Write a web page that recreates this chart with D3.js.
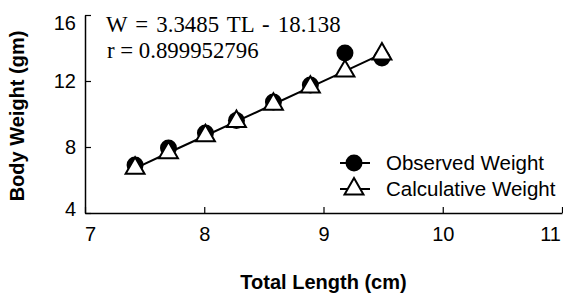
<!DOCTYPE html>
<html>
<head>
<meta charset="utf-8">
<script src="https://cdn.jsdelivr.net/npm/d3@7"></script>
<style>
  html, body { margin: 0; padding: 0; background: #fff; }
  svg { display: block; }
</style>
</head>
<body>
<div id="chart"></div>
<script>
// values
const totalLength = [7.42, 7.70, 8.01, 8.27, 8.58, 8.89, 9.18, 9.49];
const observedWeight = [6.91, 7.94, 8.85, 9.60, 10.73, 11.76, 13.70, 13.39];
const calculativeWeight = [6.71, 7.65, 8.68, 9.55, 10.59, 11.63, 12.60, 13.64];
const xTicks = [7, 8, 9, 10, 11];
const yTicks = [4, 8, 12, 16];
const seriesNames = ["Observed Weight", "Calculative Weight"];
const equationText = ["W = 3.3485 TL - 18.138", "r = 0.899952796"];

const width = 563, height = 293;

const svg = d3.select("#chart").append("svg")
  .attr("width", width)
  .attr("height", height);

const x = d3.scaleLinear().domain([7, 11]).range([85, 562]);
const y = d3.scaleLinear().domain([4, 16]).range([213, 15]);

// axes, ticks pointing inward
const xAxis = svg.append("g")
  .attr("transform", `translate(0,${y(4)})`)
  .call(d3.axisBottom(x).tickValues(xTicks).tickSizeInner(-6).tickSizeOuter(0).tickPadding(14)
    .tickFormat(d3.format("d")));

const yAxis = svg.append("g")
  .attr("transform", `translate(${x(7)},0)`)
  .call(d3.axisLeft(y).tickValues(yTicks).tickSizeInner(-6).tickSizeOuter(0).tickPadding(9)
    .tickFormat(d3.format("d")));

[xAxis, yAxis].forEach(g => {
  g.select(".domain").attr("stroke", "#000").attr("stroke-width", 1.5);
  g.selectAll(".tick line").attr("stroke", "#000").attr("stroke-width", 1.2);
  g.selectAll(".tick text")
    .attr("fill", "#000")
    .style("font-family", "Liberation Sans, Arial, sans-serif")
    .style("font-size", "20px");
});

// labels at the ends sit inside the frame like in the original
xAxis.selectAll(".tick text").filter(d => d === 7).attr("dx", 5);
xAxis.selectAll(".tick text").filter(d => d === 11).attr("dx", -12);
yAxis.selectAll(".tick text").filter(d => d === 16).attr("dy", "0.32em").attr("y", 8);
yAxis.selectAll(".tick text").filter(d => d === 4).attr("y", -4);

// axis titles
svg.append("text")
  .attr("x", (x(7) + x(11)) / 2)
  .attr("y", 289)
  .attr("text-anchor", "middle")
  .style("font-family", "Liberation Sans, Arial, sans-serif")
  .style("font-weight", "bold")
  .style("font-size", "20px")
  .text("Total Length (cm)");

svg.append("text")
  .attr("transform", `translate(24,${(y(4) + y(16)) / 2 + 2}) rotate(-90)`)
  .attr("text-anchor", "middle")
  .style("font-family", "Liberation Sans, Arial, sans-serif")
  .style("font-weight", "bold")
  .style("font-size", "20px")
  .text("Body Weight (gm)");

// observed weight markers
const obs = totalLength.map((t, i) => ({ t, w: observedWeight[i] }));
const calc = totalLength.map((t, i) => ({ t, w: calculativeWeight[i] }));

svg.append("g").selectAll("circle")
  .data(obs)
  .enter()
  .append("circle")
  .attr("cx", d => x(d.t))
  .attr("cy", d => y(d.w))
  .attr("r", 8.5)
  .attr("fill", "#000");

// calculative weight line + markers
const line = d3.line().x(d => x(d.t)).y(d => y(d.w));
svg.append("path")
  .datum(calc)
  .attr("d", line)
  .attr("fill", "none")
  .attr("stroke", "#000")
  .attr("stroke-width", 2);

const tri = d3.symbol().type(d3.symbolTriangle).size(155);
svg.append("g").selectAll("path")
  .data(calc)
  .enter()
  .append("path")
  .attr("d", tri)
  .attr("transform", d => `translate(${x(d.t)},${y(d.w)})`)
  .attr("fill", "#fff")
  .attr("stroke", "#000")
  .attr("stroke-width", 2);

// equation
svg.append("g").selectAll("text")
  .data(equationText)
  .enter()
  .append("text")
  .attr("x", (d, i) => i === 0 ? 106 : 107)
  .attr("y", (d, i) => 32 + i * 26)
  .style("font-family", "Liberation Serif, Times New Roman, serif")
  .style("font-size", "22.8px")
  .style("word-spacing", (d, i) => i === 0 ? "2.5px" : "0px")
  .attr("fill", "#000")
  .text(d => d);

// legend
const legend = svg.append("g").attr("transform", "translate(340,163)");
seriesNames.forEach((name, i) => {
  const row = legend.append("g").attr("transform", `translate(0,${i * 26})`);
  row.append("line")
    .attr("x1", 0).attr("x2", 30)
    .attr("stroke", "#000").attr("stroke-width", 2);
  if (i === 0) {
    row.append("circle").attr("cx", 14).attr("r", 8.5).attr("fill", "#000");
  } else {
    row.append("path").attr("d", tri).attr("transform", "translate(14,0)")
      .attr("fill", "#fff").attr("stroke", "#000").attr("stroke-width", 2);
  }
  row.append("text")
    .attr("x", 46)
    .attr("y", 7)
    .style("font-family", "Liberation Sans, Arial, sans-serif")
    .style("font-size", "20.5px")
    .attr("fill", "#000")
    .text(name);
});
</script>
</body>
</html>
